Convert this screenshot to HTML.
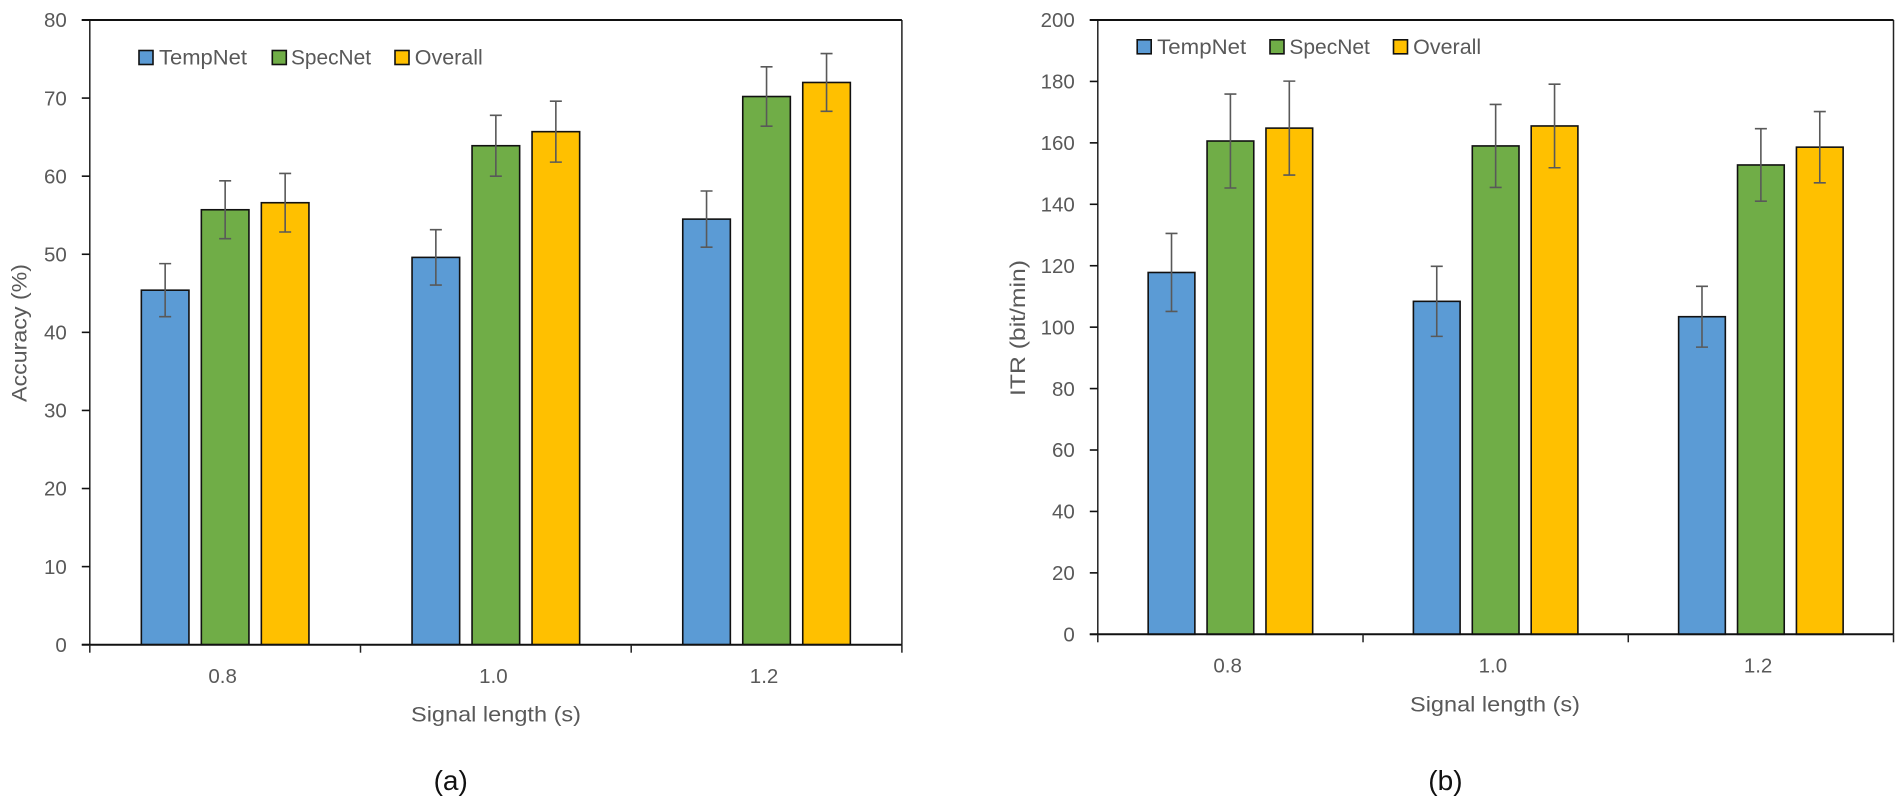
<!DOCTYPE html>
<html lang="en">
<head>
<meta charset="utf-8">
<title>Accuracy and ITR by signal length</title>
<style>
html,body{margin:0;padding:0;background:#fff;width:1902px;height:802px;overflow:hidden}
svg{display:block}
text{font-family:"Liberation Sans",sans-serif;fill:#595959}
</style>
</head>
<body>
<svg id="chart" xmlns="http://www.w3.org/2000/svg" width="1902" height="802" viewBox="0 0 1902 802"></svg>
<script>
const categories = ['0.8', '1.0', '1.2'];
const seriesNames = ['TempNet', 'SpecNet', 'Overall'];

const accuracyTempNet = [45.4, 49.6, 54.5];
const accuracySpecNet = [55.7, 63.9, 70.2];
const accuracyOverall = [56.6, 65.7, 72.0];
const accuracyTempNetErr = [3.4, 3.55, 3.6];
const accuracySpecNetErr = [3.7, 3.9, 3.8];
const accuracyOverallErr = [3.75, 3.9, 3.7];
const accuracyTicks = [0, 10, 20, 30, 40, 50, 60, 70, 80];

const itrTempNet = [117.8, 108.4, 103.4];
const itrSpecNet = [160.6, 159.0, 152.8];
const itrOverall = [164.8, 165.5, 158.6];
const itrTempNetErr = [12.7, 11.4, 9.9];
const itrSpecNetErr = [15.3, 13.5, 11.8];
const itrOverallErr = [15.3, 13.6, 11.6];
const itrTicks = [0, 20, 40, 60, 80, 100, 120, 140, 160, 180, 200];

const NS = 'http://www.w3.org/2000/svg';
const root = document.getElementById('chart');
const fills = ['#5B9BD5', '#70AD47', '#FFC000'];

function el(parent, tag, attrs, text) {
  const e = document.createElementNS(NS, tag);
  for (const k in attrs) e.setAttribute(k, attrs[k]);
  if (text !== undefined) e.textContent = text;
  parent.appendChild(e);
  return e;
}

function drawPanel(p) {
  const g = el(root, 'g', {});
  
  
  const yMax = p.ticks[p.ticks.length - 1];
  const y = v => p.bottom - (v / yMax) * (p.bottom - p.top);
  const bandW = (p.right - p.left) / categories.length;
  const band = i => p.left + bandW * i;
  const barX = (i, s) => band(i) + bandW / 2 + (s - 1) * p.pitch - p.barW / 2;

  // bars
  p.values.forEach((vals, s) => {
    vals.forEach((v, i) => {
      const bar = el(g, 'rect', {x: barX(i, s), y: y(v), width: p.barW, height: p.bottom - y(v), fill: fills[s], stroke: '#111', 'stroke-width': 1.6});
      
      
    });
  });

  // error bars
  p.values.forEach((vals, s) => {
    vals.forEach((v, i) => {
      const cx = barX(i, s) + p.barW / 2;
      const hi = y(v + p.errors[s][i]);
      const lo = y(v - p.errors[s][i]);
      const eb = el(g, 'path', {d: 'M' + (cx - 6) + ' ' + hi + 'H' + (cx + 6) + 'M' + cx + ' ' + hi + 'V' + lo + 'M' + (cx - 6) + ' ' + lo + 'H' + (cx + 6), fill: 'none', stroke: '#595959', 'stroke-width': 1.6});
      
      
    });
  });

  // axes frame
  const frame = el(g, 'path', {d: 'M' + p.left + ' ' + p.top + 'V' + p.bottom + 'M' + p.right + ' ' + p.top + 'V' + p.bottom, fill: 'none', stroke: '#222', 'stroke-width': 1.5});
  
  
  const topLine = el(g, 'line', {x1: p.left - 8, x2: p.right, y1: p.top, y2: p.top, stroke: '#111', 'stroke-width': 2});
  
  
  const xLine = el(g, 'line', {x1: p.left - 8, x2: p.right, y1: p.bottom, y2: p.bottom, stroke: '#111', 'stroke-width': 2});
  
  

  // y ticks
  p.ticks.forEach(t => {
    const tick = el(g, 'line', {x1: p.left - 8, x2: p.left, y1: y(t), y2: y(t), stroke: '#111', 'stroke-width': t === yMax ? 2 : 1.6});
    
    
    const lab = el(g, 'text', {x: p.left - 23, y: y(t) + 7.2, 'text-anchor': 'end', 'font-size': 20.5}, String(t));
    
    
  });

  // x ticks
  for (let i = 0; i <= categories.length; i++) {
    const tick = el(g, 'line', {x1: band(i), x2: band(i), y1: p.bottom, y2: p.bottom + 8, stroke: '#222', 'stroke-width': 1.5});
    
    
  }
  categories.forEach((c, i) => {
    const lab = el(g, 'text', {x: band(i) + bandW / 2 + p.catShift, y: p.catY, 'text-anchor': 'middle', 'font-size': 20.5}, c);
    
    
  });

  // titles
  const xTitle = el(g, 'text', {x: p.xTitleX, y: p.xTitleY, 'font-size': 21, textLength: 170, lengthAdjust: 'spacingAndGlyphs'}, 'Signal length (s)');
  
  
  const yTitle = el(g, 'text', {transform: 'translate(' + p.yTitleX + ' ' + p.yTitleStart + ') rotate(-90)', 'font-size': 21, textLength: p.yTitleLen, lengthAdjust: 'spacingAndGlyphs'}, p.yTitle);
  
  

  // legend
  seriesNames.forEach((n, s) => {
    const sw = el(g, 'rect', {x: p.legendSwatchX[s], y: p.legendY, width: 14, height: 14, fill: fills[s], stroke: '#111', 'stroke-width': 1.6});
    
    
    const t = el(g, 'text', {x: p.legendTextX[s], y: p.legendY + 14, 'font-size': 21, textLength: p.legendTextW[s], lengthAdjust: 'spacingAndGlyphs'}, n);
    
    
  });

  // panel caption
  const cap = el(g, 'text', {x: p.captionX, y: 790, 'font-size': 28, style: 'fill:#111'}, p.caption);
  
  
}

drawPanel({
  id: 'accuracy', left: 89.8, right: 901.9, top: 20, bottom: 644.7, barW: 47.6, pitch: 60,
  ticks: accuracyTicks,
  values: [accuracyTempNet, accuracySpecNet, accuracyOverall],
  errors: [accuracyTempNetErr, accuracySpecNetErr, accuracyOverallErr],
  catShift: -2.5, catY: 683,
  xTitleX: 411, xTitleY: 721.5,
  yTitle: 'Accuracy (%)', yTitleX: 26.5, yTitleStart: 402, yTitleLen: 138,
  legendSwatchX: [139, 272.3, 395], legendTextX: [159, 291, 414.8], legendTextW: [88, 80, 68], legendY: 50.5,
  caption: '(a)', captionX: 433.6
});

drawPanel({
  id: 'itr', left: 1097.8, right: 1893.5, top: 20, bottom: 634.3, barW: 46.7, pitch: 58.9,
  ticks: itrTicks,
  values: [itrTempNet, itrSpecNet, itrOverall],
  errors: [itrTempNetErr, itrSpecNetErr, itrOverallErr],
  catShift: -2.8, catY: 672.7,
  xTitleX: 1410, xTitleY: 711.5,
  yTitle: 'ITR (bit/min)', yTitleX: 1025, yTitleStart: 396, yTitleLen: 136,
  legendSwatchX: [1137.2, 1270, 1393.5], legendTextX: [1157.2, 1289.4, 1413.2], legendTextW: [89, 80.5, 68], legendY: 39.8,
  caption: '(b)', captionX: 1428.3
});
</script>
</body>
</html>
